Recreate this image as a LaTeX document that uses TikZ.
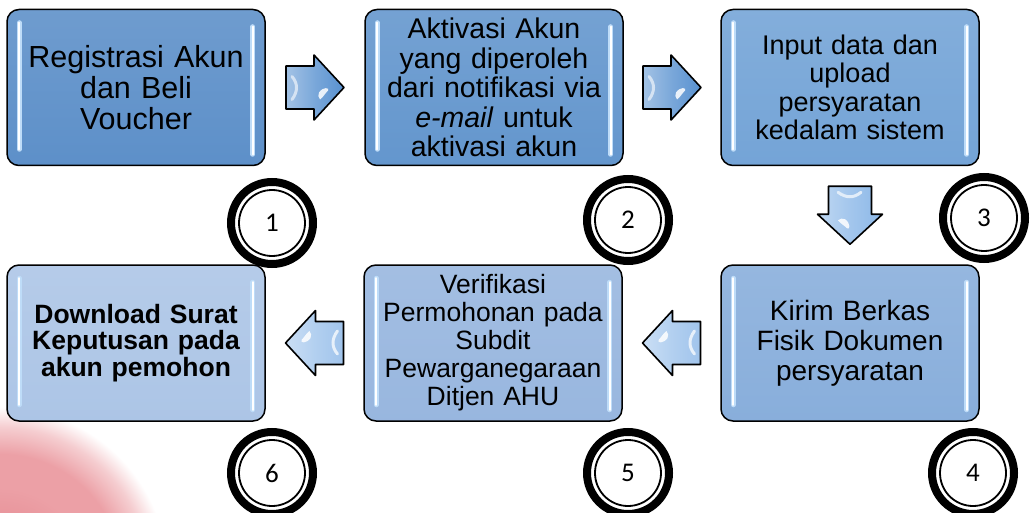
\documentclass[tikz,border=0pt]{standalone}
\usepackage{fontspec}
\setmainfont{Liberation Sans}
\newfontfamily\numfont{Carlito}
\usetikzlibrary{calc}
\definecolor{bA}{RGB}{79,134,196}
\definecolor{bB}{RGB}{86,141,201}
\definecolor{bC}{RGB}{104,156,211}
\definecolor{bD}{RGB}{126,167,216}
\definecolor{bE}{RGB}{143,176,220}
\definecolor{bF}{RGB}{165,192,228}
\definecolor{arR}{RGB}{88,145,208}
\definecolor{arD}{RGB}{140,184,232}
\definecolor{arL}{RGB}{160,196,236}
\definecolor{glow}{RGB}{190,220,248}
\definecolor{blobred}{RGB}{226,128,136}
\definecolor{blobpink}{RGB}{236,160,166}
\definecolor{blobfade}{RGB}{245,205,208}
\pgfdeclareradialshading{blob}{\pgfpoint{0bp}{0bp}}{color(0bp)=(blobred); color(13bp)=(blobpink); color(18bp)=(blobpink); color(22bp)=(blobfade); color(25bp)=(white); color(50bp)=(white)}
\begin{document}
\begin{tikzpicture}[x=1pt,y=-1pt,
  stepbox/.style={draw=black, line width=1.5pt, rounded corners=12pt,
    minimum width=258pt, minimum height=156pt, text width=240pt,
    align=center, inner sep=0pt, top color=#1!82!white, middle color=#1,
    bottom color=#1!92!white},
  hlglow/.style={glow, line width=5pt, line cap=round},
  hlbar/.style={white, line width=2.2pt, line cap=round},
  numcirc/.style={circle, draw=black, line width=8pt, minimum size=82pt,
    inner sep=0pt, fill=white, font=\numfont\fontsize{27}{27}\selectfont,
    path picture={\draw[line width=1.8pt] (path picture bounding box.center) circle (33pt);}},
  pics/barrow/.style={code={
    \draw[line width=1.6pt, line join=round, left color=#1!55!white, right color=#1, middle color=#1!80!white]
      (-29,-21.5) -- (-1,-21.5) -- (-1,-32.5) -- (29,0) -- (-1,32.5) -- (-1,21.5) -- (-29,21.5) -- cycle;
    \draw[white!75!#1, line width=3pt, line cap=round] (-23,-11) .. controls (-17,-4) and (-17,4) .. (-23,12);
    \fill[white, opacity=0.85] (4,5) .. controls (8,-1) and (15,0) .. (13,3) .. controls (10,6) and (8,10) .. (5,12) .. controls (3,10) and (3,7) .. cycle;
  }}
]
\useasboundingbox (0,0) rectangle (1030,513);
\fill[white] (0,0) rectangle (1030,513);
\begin{scope}
  \clip (0,0) rectangle (1030,513);
  \shade[shading=blob] (0,575) circle (168);
\end{scope}

\node[stepbox=bA, font=\fontsize{30.5}{31}\selectfont] (b1) at (136,87.5) {Registrasi Akun\\dan Beli\\Voucher};
\node[stepbox=bB, font=\fontsize{28.5}{29.5}\selectfont] (b2) at (494,87.5) {Aktivasi Akun\\yang diperoleh\\dari notifikasi via\\\textit{e-mail} untuk\\aktivasi akun};
\node[stepbox=bC, font=\fontsize{27}{28.5}\selectfont] (b3) at (850,87.5) {Input data dan\\upload\\persyaratan\\kedalam sistem};
\node[stepbox=bD, font=\fontsize{28}{30}\selectfont] (b4) at (850,343) {Kirim Berkas\\Fisik Dokumen\\persyaratan};
\node[stepbox=bE, font=\fontsize{26.5}{28}\selectfont] (b5) at (493,343) {Verifikasi\\Permohonan pada\\Subdit\\Pewarganegaraan\\Ditjen AHU};
\node[stepbox=bF, font=\bfseries\fontsize{26.5}{26.5}\selectfont] (b6) at (136,343) {Download Surat\\Keputusan pada\\akun pemohon};

\foreach \b in {b1,b2,b3,b4,b5,b6}{
  \draw[hlglow] ($(\b.north west)+(13,14)$) -- ($(\b.south west)+(13,-17)$);
  \draw[hlbar]  ($(\b.north west)+(13,14)$) -- ($(\b.south west)+(13,-17)$);
  \draw[hlglow] ($(\b.north east)+(-13,18)$) -- ($(\b.south east)+(-13,-12)$);
  \draw[hlbar]  ($(\b.north east)+(-13,18)$) -- ($(\b.south east)+(-13,-12)$);
}

\path ($(b1.east)!0.5!(b2.west)$) pic {barrow=arR};
\path ($(b2.east)!0.5!(b3.west)$) pic {barrow=arR};
\path ($(b3.south)!0.5!(b4.north)$) pic[rotate=-90] {barrow=arD};
\path ($(b4.west)!0.5!(b5.east)$) pic[rotate=180] {barrow=arL};
\path ($(b5.west)!0.5!(b6.east)$) pic[rotate=180] {barrow=arL};

\node[numcirc] (c1) at (272,223) {1};
\node[numcirc] (c2) at (628,220) {2};
\node[numcirc] (c3) at (984,218) {3};
\node[numcirc] (c4) at (973,473) {4};
\node[numcirc] (c5) at (628,473) {5};
\node[numcirc] (c6) at (272,473) {6};
\end{tikzpicture}
\end{document}
